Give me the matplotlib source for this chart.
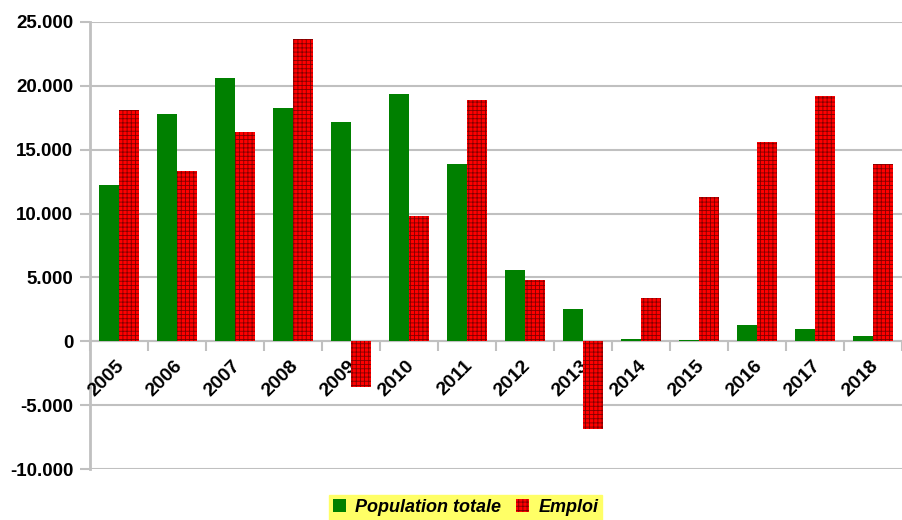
import matplotlib
matplotlib.use("Agg")
import matplotlib.pyplot as plt
import numpy as np
from matplotlib.ticker import FuncFormatter, FixedLocator

years = ["2005", "2006", "2007", "2008", "2009", "2010", "2011",
         "2012", "2013", "2014", "2015", "2016", "2017", "2018"]
population_totale = [12200, 17800, 20600, 18300, 17200, 19400, 13900,
                     5600, 2500, 150, 120, 1250, 1000, 400]
emploi = [18100, 13300, 16400, 23700, -3600, 9800, 18900,
          4800, -6900, 3400, 11300, 15600, 19200, 13900]
yticks = [-10000, -5000, 0, 5000, 10000, 15000, 20000, 25000]

plt.rcParams['font.family'] = ['Liberation Sans', 'DejaVu Sans']
plt.rcParams['hatch.linewidth'] = 0.6

fig = plt.figure(figsize=(9.02, 5.2), dpi=100)
ax = fig.add_axes([90/902, 1-469/520, 1-90/902, (469-22)/520])

x = np.arange(len(years))
w = 0.34
grey = '#c0c0c0'

ax.set_ylim(-10000, 25000)
ax.set_xlim(-0.5, len(years) - 0.5)
ax.set_yticks(yticks)
ax.yaxis.set_major_formatter(FuncFormatter(lambda v, p: f"{int(v):,}".replace(",", ".")))
for t in ax.get_yticklabels():
    t.set_fontweight('bold')
    t.set_fontsize(13.5)
ax.tick_params(axis='y', length=7, width=1.5, color=grey, pad=5)
ax.yaxis.grid(True, color=grey, linewidth=1.5, zorder=0)
ax.set_axisbelow(True)

b1 = ax.bar(x - w/2, population_totale, w, color='#008000', label='Population totale', zorder=3)
b2 = ax.bar(x + w/2, emploi, w, color='#ff0000', edgecolor='#800000', linewidth=0,
            hatch='++++', label='Emploi', zorder=5)

for s in ['top', 'right']:
    ax.spines[s].set_visible(False)
ax.spines['left'].set_color(grey)
ax.spines['left'].set_linewidth(2)
ax.spines['bottom'].set_position(('data', 0))
ax.spines['bottom'].set_color(grey)
ax.spines['bottom'].set_linewidth(1.5)
ax.spines['bottom'].set_zorder(2)
ax.xaxis.set_major_locator(FixedLocator(np.arange(-0.5, len(years), 1.0)))
ax.xaxis.set_major_formatter(FuncFormatter(lambda v, p: ""))
ax.tick_params(axis='x', length=7, width=1.5, color=grey, direction='out')

for i, yr in enumerate(years):
    ax.text(i - 0.06, -1250, yr, rotation=45, rotation_mode='anchor',
            ha='right', va='top', fontsize=14, fontweight='bold', zorder=4)

leg = fig.legend(handles=[b1, b2], loc='lower center', bbox_to_anchor=(0.516, 0.0),
                 ncol=2, frameon=True, fancybox=False, borderpad=0.2,
                 handlelength=0.75, handleheight=0.75, handletextpad=0.5,
                 columnspacing=0.8, borderaxespad=0.02,
                 prop={'weight': 'bold', 'style': 'italic', 'size': 13})
leg.get_frame().set_facecolor('#ffff66')
leg.get_frame().set_edgecolor('#ffff66')
leg.get_frame().set_alpha(1)

fig.savefig('out.png', dpi=100)
